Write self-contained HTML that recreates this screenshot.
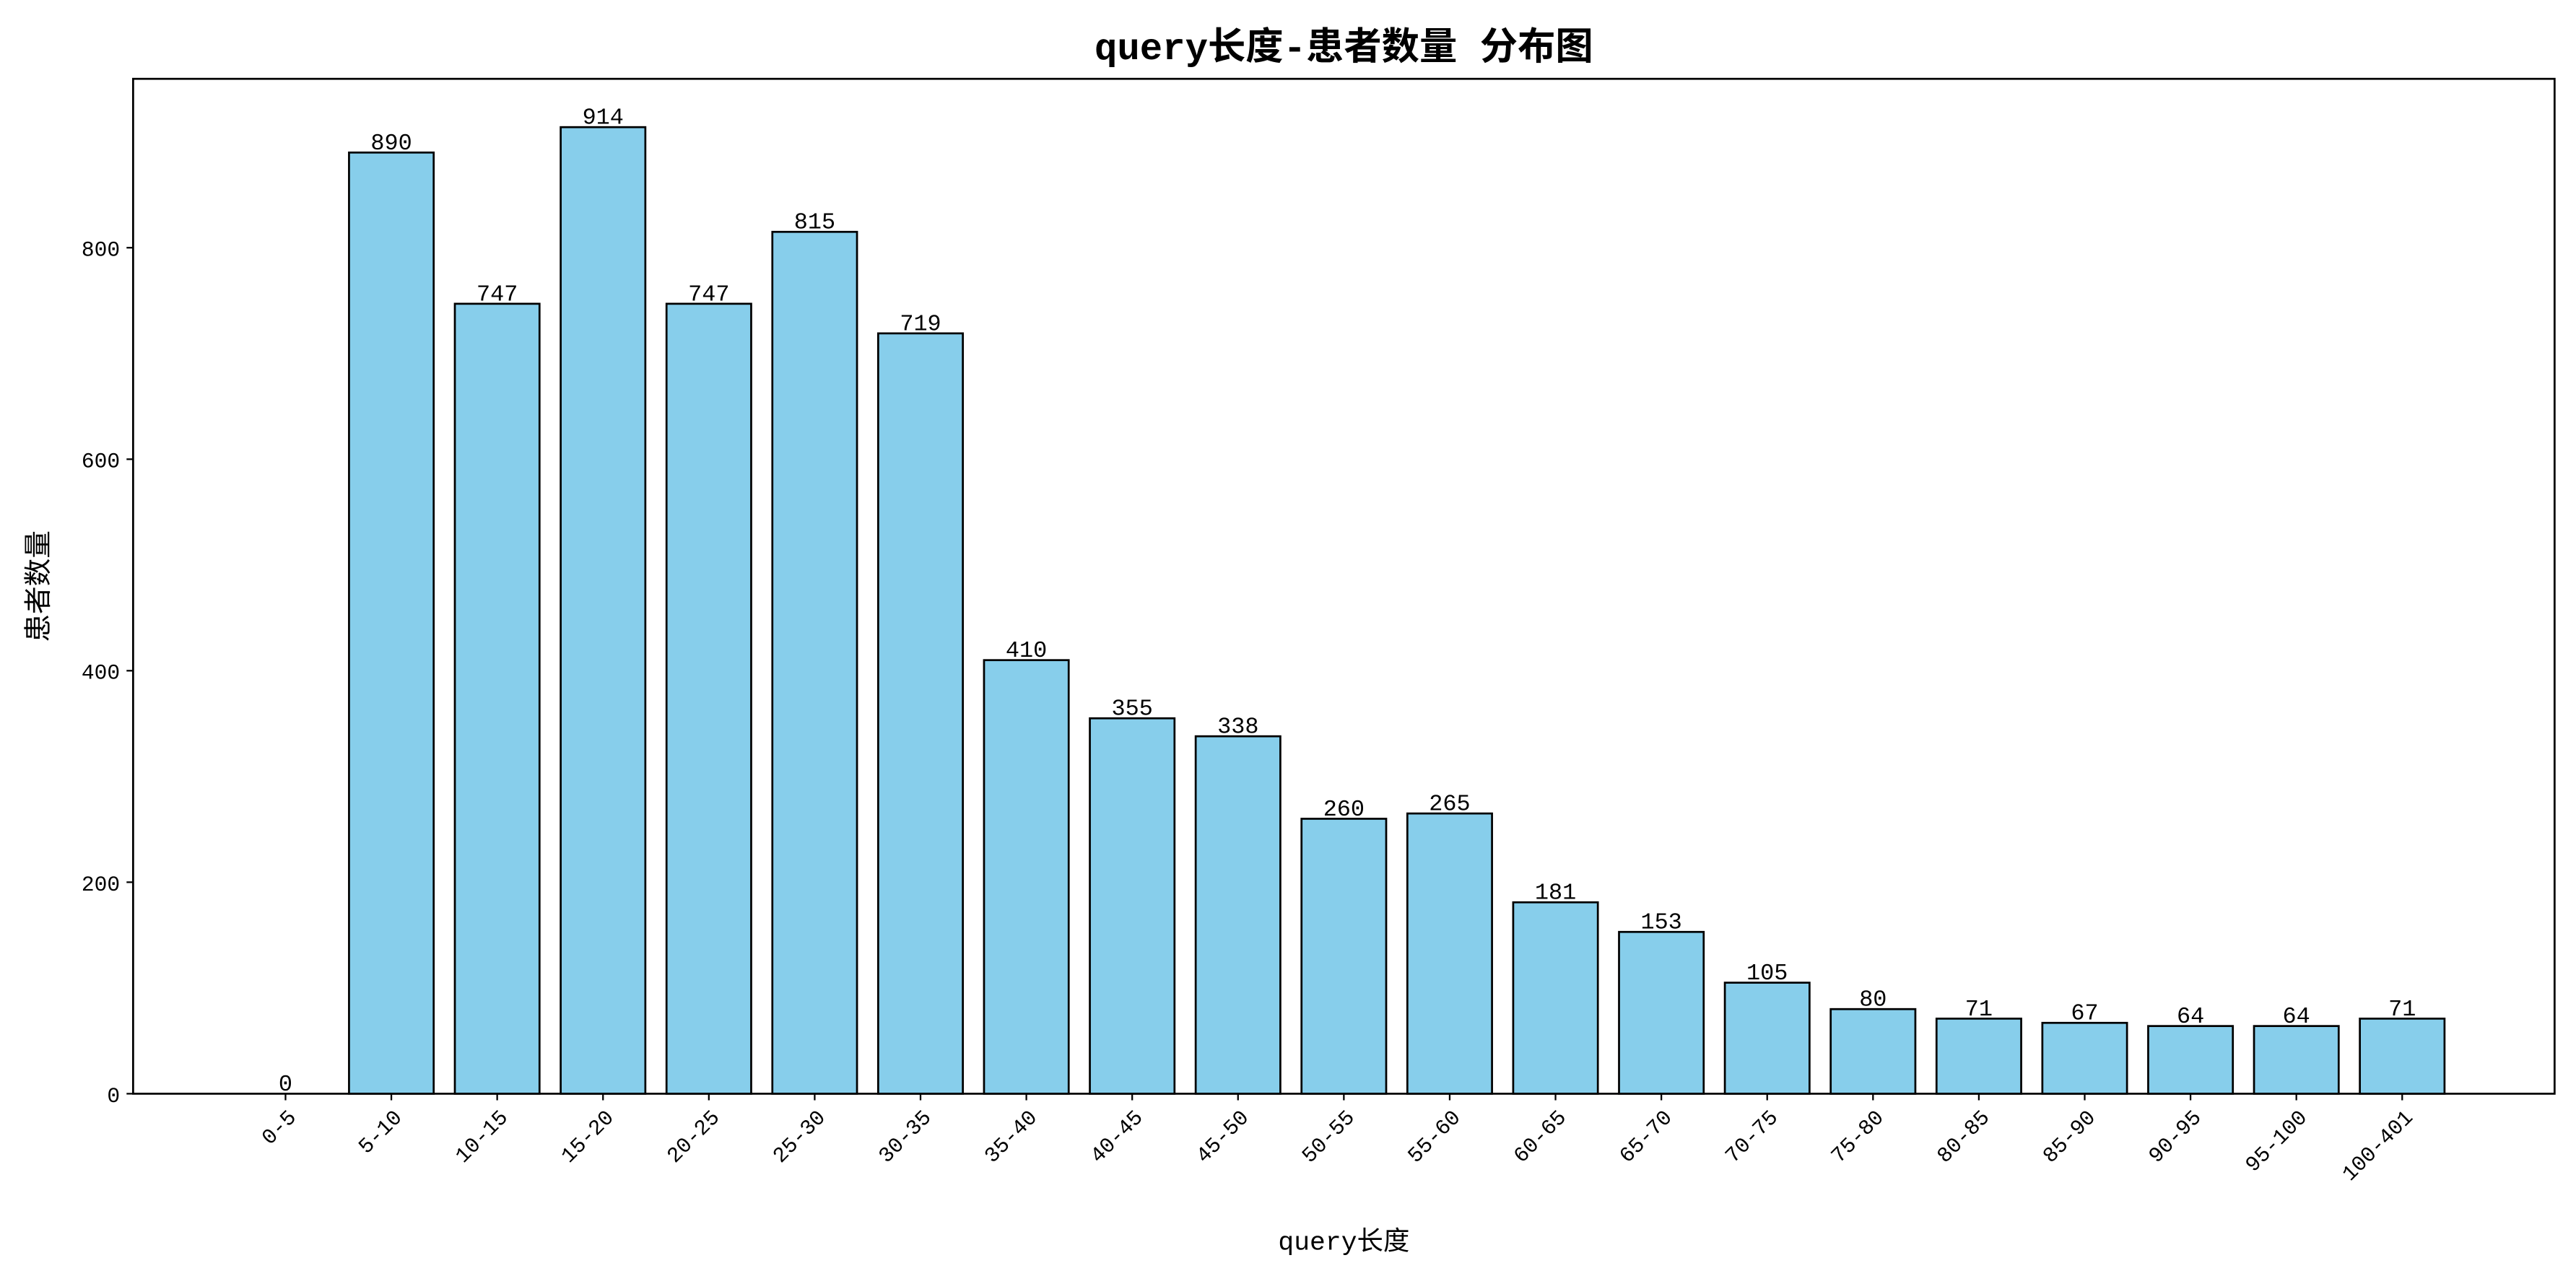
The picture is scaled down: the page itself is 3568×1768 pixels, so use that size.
<!DOCTYPE html>
<html><head><meta charset="utf-8"><style>
html,body{margin:0;padding:0;background:#fff}
svg{display:block}
text{font-family:"Liberation Mono","WenQuanYi Zen Hei","Noto Sans CJK SC",monospace;fill:#000}
</style></head><body>
<svg id="chart" width="3568" height="1768" viewBox="0 0 1568 777" xmlns="http://www.w3.org/2000/svg">
<rect width="1568" height="777" fill="#fff"/>
<text x="818" y="36" font-size="23" font-weight="bold" text-anchor="middle">query长度-患者数量 分布图</text>
<text x="818" y="761" font-size="16" text-anchor="middle">query长度</text>
<text x="0" y="0" font-size="17" text-anchor="middle" transform="translate(29,357) rotate(-90)">患者数量</text>
<g id="plot"></g>
</svg>
<script>
const categories=["0-5","5-10","10-15","15-20","20-25","25-30","30-35","35-40","40-45","45-50","50-55","55-60","60-65","65-70","70-75","75-80","80-85","85-90","90-95","95-100","100-401"];
const values=[0,890,747,914,747,815,719,410,355,338,260,265,181,153,105,80,71,67,64,64,71];
const yTicks=[0,200,400,600,800];
const L=81,R=1555,T=48,B=666;
const n=categories.length;
const xmin=-0.4-0.05*(n-1+0.8),xmax=n-1+0.4+0.05*(n-1+0.8);
const ymax=Math.max(...values)*1.05;
const sx=v=>L+(v-xmin)/(xmax-xmin)*(R-L);
const sy=v=>B-v/ymax*(B-T);
const g=document.getElementById('plot');
const NS="http://www.w3.org/2000/svg";
function mk(t,a){const e=document.createElementNS(NS,t);for(const k in a)e.setAttribute(k,a[k]);g.appendChild(e);return e;}
values.forEach((v,i)=>{
  const bw=0.8*(R-L)/(xmax-xmin);
  const r=mk('rect',{x:sx(i)-bw/2,y:sy(v),width:bw,height:B-sy(v),fill:'#87ceeb',stroke:'#000','stroke-width':1.2});
  
  
  const t=mk('text',{x:sx(i),y:sy(v)-2,'font-size':14,'text-anchor':'middle'});
  t.textContent=v;
  
  
  mk('line',{x1:sx(i),x2:sx(i),y1:B,y2:B+4,stroke:'#000','stroke-width':1});
  const xl=mk('text',{x:0,y:0,'font-size':13,'text-anchor':'end',transform:`translate(${sx(i)+7},${B+15}) rotate(-45)`});
  xl.textContent=categories[i];
  
  
});
yTicks.forEach(v=>{
  mk('line',{x1:L-4,x2:L,y1:sy(v),y2:sy(v),stroke:'#000','stroke-width':1});
  const t=mk('text',{x:L-8,y:sy(v)+5,'font-size':13,'text-anchor':'end'});
  t.textContent=v;
  
  
});
const fr=mk('rect',{x:L,y:T,width:R-L,height:B-T,fill:'none',stroke:'#000','stroke-width':1.2});


</script>
</body></html>
